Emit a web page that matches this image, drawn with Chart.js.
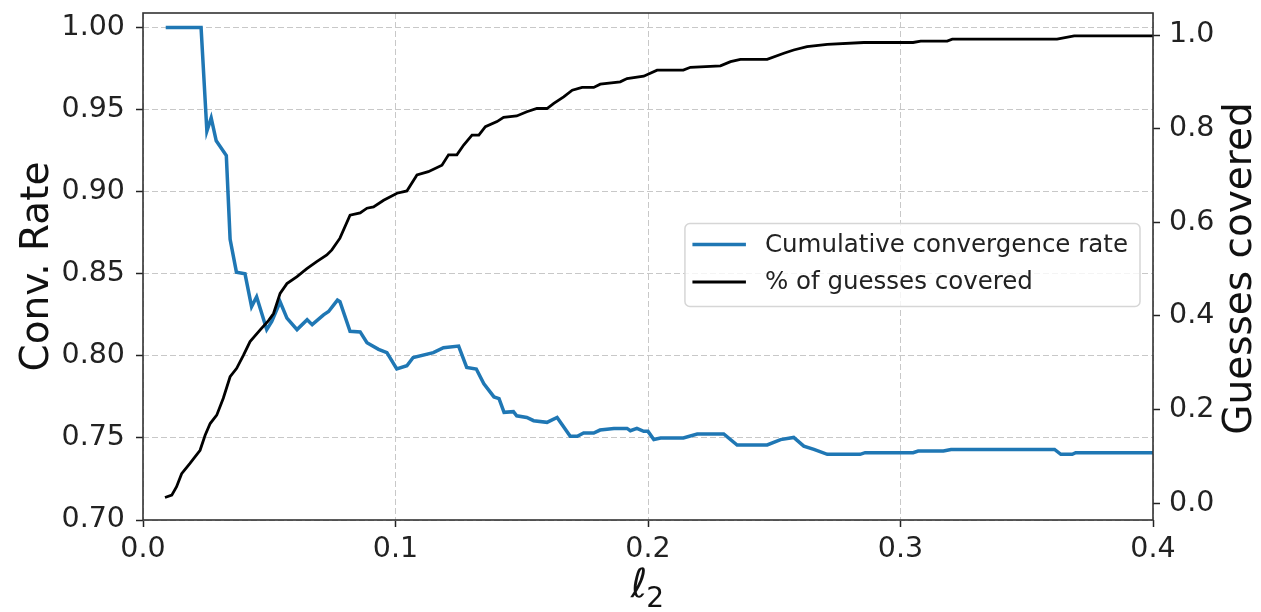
<!DOCTYPE html>
<html><head><meta charset="utf-8">
<script src="https://cdn.jsdelivr.net/npm/chart.js@4.4.1/dist/chart.umd.min.js"></script>
<style>html,body{margin:0;padding:0;background:#fff;} #wrap{width:1261px;height:612px;position:relative;}</style>
</head><body><div id="wrap"><canvas id="c" width="1261" height="612"></canvas></div>
<script>
// ---- data ----
const convX = [0.009,0.023,0.0253,0.027,0.029,0.033,0.0345,0.037,0.0404,0.043,0.045,0.049,0.051,0.0543,0.057,0.061,0.065,0.067,0.0715,0.0735,0.077,0.078,0.082,0.086,0.0887,0.0933,0.0966,0.1005,0.1045,0.107,0.115,0.119,0.125,0.1282,0.132,0.135,0.139,0.141,0.143,0.1467,0.148,0.152,0.1547,0.16,0.164,0.1692,0.172,0.1745,0.1785,0.181,0.1865,0.1917,0.193,0.1956,0.1983,0.2,0.2023,0.205,0.214,0.2195,0.23,0.2353,0.2472,0.2525,0.2577,0.2617,0.2657,0.271,0.284,0.286,0.305,0.307,0.317,0.32,0.361,0.3635,0.368,0.3694,0.4];
const convRate = [1.000,1.000,0.937,0.945,0.931,0.922,0.871,0.851,0.850,0.830,0.836,0.816,0.821,0.833,0.823,0.816,0.822,0.819,0.825,0.827,0.834,0.833,0.815,0.8146,0.808,0.804,0.802,0.792,0.794,0.799,0.802,0.805,0.806,0.793,0.792,0.783,0.775,0.774,0.7656,0.766,0.7635,0.7625,0.7605,0.7595,0.7625,0.751,0.751,0.753,0.753,0.7548,0.7558,0.7558,0.7544,0.7558,0.754,0.754,0.749,0.750,0.750,0.7524,0.7524,0.7457,0.7457,0.749,0.7503,0.745,0.743,0.740,0.740,0.741,0.741,0.742,0.742,0.743,0.743,0.740,0.740,0.741,0.741];
const guessX = [0.0087,0.0114,0.0133,0.0153,0.0186,0.0226,0.0246,0.0266,0.0292,0.0318,0.0345,0.0371,0.0398,0.0424,0.0464,0.0497,0.0517,0.0543,0.057,0.061,0.0649,0.0688,0.0728,0.0748,0.078,0.082,0.086,0.0887,0.0913,0.0953,0.1006,0.1045,0.1085,0.113,0.1184,0.121,0.1243,0.127,0.1303,0.133,0.1356,0.1402,0.1428,0.148,0.152,0.156,0.16,0.1627,0.1666,0.17,0.1739,0.1785,0.1811,0.189,0.1917,0.1983,0.2036,0.214,0.2168,0.2287,0.2327,0.2366,0.2472,0.2538,0.2577,0.263,0.271,0.2855,0.305,0.308,0.3185,0.3205,0.362,0.3688,0.4];
const guessCovered = [0.012,0.017,0.035,0.063,0.085,0.113,0.145,0.170,0.188,0.224,0.270,0.288,0.316,0.345,0.370,0.390,0.405,0.448,0.469,0.484,0.501,0.516,0.530,0.541,0.566,0.615,0.620,0.630,0.633,0.647,0.662,0.667,0.701,0.708,0.722,0.744,0.744,0.765,0.786,0.786,0.804,0.815,0.824,0.827,0.836,0.843,0.843,0.854,0.868,0.882,0.888,0.888,0.895,0.900,0.907,0.912,0.925,0.925,0.931,0.934,0.943,0.948,0.948,0.961,0.968,0.975,0.980,0.984,0.984,0.987,0.987,0.991,0.991,0.998,0.998];
const xTicks = [0.0,0.1,0.2,0.3,0.4];
const leftTicks = [0.70,0.75,0.80,0.85,0.90,0.95,1.00];
const rightTicks = [0.0,0.2,0.4,0.6,0.8,1.0];
const seriesLabels = ['Cumulative convergence rate','% of guesses covered'];
const xTitleMain = 'ℓ';
const xTitleSub = '2';
const leftTitle = 'Conv. Rate';
const rightTitle = 'Guesses covered';

// ---- styles ----
const FONT = "'DejaVu Sans', sans-serif";
const TICK_COLOR = '#222';
const GRID_COLOR = '#c8c8c8';
const TICK_SIZE = 28.5;

function pts(xs, ys){ return xs.map((x,i)=>({x:x,y:ys[i]})); }
function noPad(s){ s.paddingTop = 0; s.paddingBottom = 0; s.paddingLeft = 0; s.paddingRight = 0; }

const framePlugin = {
  id:'frameAndExtras',
  afterDraw(chart){
    const ctx = chart.ctx, a = chart.chartArea;
    ctx.save();
    // frame
    ctx.strokeStyle = '#333'; ctx.lineWidth = 1.6; ctx.setLineDash([]);
    ctx.strokeRect(a.left, a.top, a.right-a.left, a.bottom-a.top);
    // legend
    ctx.font = "24.5px " + FONT;
    const textW = Math.max(...seriesLabels.map(s=>ctx.measureText(s).width));
    const boxRight = a.right - 13;
    const boxW = 80 + textW + 12;
    const boxLeft = boxRight - boxW;
    const boxH = 83;
    const boxTop = (a.top + a.bottom)/2 - boxH/2 - 1.5;
    ctx.beginPath();
    const r = 5;
    ctx.moveTo(boxLeft+r, boxTop);
    ctx.arcTo(boxLeft+boxW, boxTop, boxLeft+boxW, boxTop+boxH, r);
    ctx.arcTo(boxLeft+boxW, boxTop+boxH, boxLeft, boxTop+boxH, r);
    ctx.arcTo(boxLeft, boxTop+boxH, boxLeft, boxTop, r);
    ctx.arcTo(boxLeft, boxTop, boxLeft+boxW, boxTop, r);
    ctx.closePath();
    ctx.fillStyle = 'rgba(255,255,255,0.8)'; ctx.fill();
    ctx.strokeStyle = '#d6d6d6'; ctx.lineWidth = 1.5; ctx.stroke();
    const ds = chart.data.datasets;
    const rows = [boxTop + 21, boxTop + 58.5];
    ds.forEach((d,i)=>{
      ctx.strokeStyle = d.borderColor; ctx.lineWidth = d.borderWidth;
      ctx.beginPath(); ctx.moveTo(boxLeft+7.5, rows[i]); ctx.lineTo(boxLeft+61, rows[i]); ctx.stroke();
      ctx.fillStyle = '#222'; ctx.textBaseline = 'middle'; ctx.textAlign = 'left';
      ctx.fillText(d.label, boxLeft+80, rows[i]+1);
    });
    // right axis title (reads bottom to top)
    ctx.save();
    ctx.translate(1241, (a.top+a.bottom)/2 + 2);
    ctx.rotate(-Math.PI/2);
    ctx.font = "39px " + FONT; ctx.fillStyle = '#111';
    ctx.textAlign = 'center'; ctx.textBaseline = 'middle';
    ctx.fillText(rightTitle, 0, 0);
    ctx.restore();
    // x axis title
    ctx.font = "italic 40px " + FONT;
    const w1 = ctx.measureText(xTitleMain).width;
    ctx.font = "28px " + FONT;
    const w2 = ctx.measureText(xTitleSub).width;
    const cx = (a.left + a.right)/2;
    const startX = cx - (w1 + w2)/2;
    ctx.fillStyle = '#111'; ctx.textAlign = 'left'; ctx.textBaseline = 'alphabetic';
    ctx.font = "italic 40px " + FONT;
    ctx.fillText(xTitleMain, startX, 597);
    ctx.font = "28px " + FONT;
    ctx.fillText(xTitleSub, startX + w1 - 1, 607);
    ctx.restore();
  }
};

new Chart(document.getElementById('c'), {
  type: 'line',
  data: {
    datasets: [
      { label: seriesLabels[0], data: pts(convX, convRate), yAxisID: 'y', borderColor: '#1f77b4', borderWidth: 3.5, pointRadius: 0, tension: 0, fill: false, order: 1 },
      { label: seriesLabels[1], data: pts(guessX, guessCovered), yAxisID: 'y2', borderColor: '#000000', borderWidth: 2.8, pointRadius: 0, tension: 0, fill: false, order: 0 }
    ]
  },
  options: {
    responsive: false,
    animation: false,
    layout: { padding: { top: 13, left: 0, right: 0, bottom: 0 } },
    plugins: { legend: { display: false }, tooltip: { enabled: false }, title: { display: false } },
    scales: {
      x: {
        type: 'linear', min: 0, max: 0.4,
        afterBuildTicks: s => { s.ticks = xTicks.map(v=>({value:v})); },
        afterFit: s => { s.height = 92; noPad(s); },
        ticks: { font: { size: TICK_SIZE, family: FONT }, color: TICK_COLOR, padding: 5, maxRotation: 0, callback: v => Number(v).toFixed(1) },
        grid: { color: GRID_COLOR, lineWidth: 1, drawTicks: true, tickLength: 7, tickColor: TICK_COLOR, tickWidth: 1.5, tickBorderDash: [] },
        border: { display: false, dash: [6,3] }
      },
      y: {
        type: 'linear', position: 'left', min: 0.70, max: 1.0089,
        afterBuildTicks: s => { s.ticks = leftTicks.map(v=>({value:v})); },
        afterFit: s => { s.width = 143; noPad(s); },
        ticks: { font: { size: TICK_SIZE, family: FONT }, color: TICK_COLOR, padding: 11, callback: v => Number(v).toFixed(2) },
        grid: { color: GRID_COLOR, lineWidth: 1, drawTicks: true, tickLength: 7, tickColor: TICK_COLOR, tickWidth: 1.5, tickBorderDash: [] },
        border: { display: false, dash: [6,3] },
        title: { display: true, text: leftTitle, font: { size: 39, family: FONT }, color: '#111', padding: { top: 14, bottom: 0 } }
      },
      y2: {
        type: 'linear', position: 'right', min: -0.036, max: 1.047,
        afterBuildTicks: s => { s.ticks = rightTicks.map(v=>({value:v})); },
        afterFit: s => { s.width = 108; noPad(s); },
        ticks: { font: { size: TICK_SIZE, family: FONT }, color: TICK_COLOR, padding: 9, callback: v => Number(v).toFixed(1) },
        grid: { drawOnChartArea: false, drawTicks: true, tickLength: 7, tickColor: TICK_COLOR, tickWidth: 1.5, tickBorderDash: [] },
        border: { display: false }
      }
    }
  },
  plugins: [framePlugin]
});
</script>
</body></html>
